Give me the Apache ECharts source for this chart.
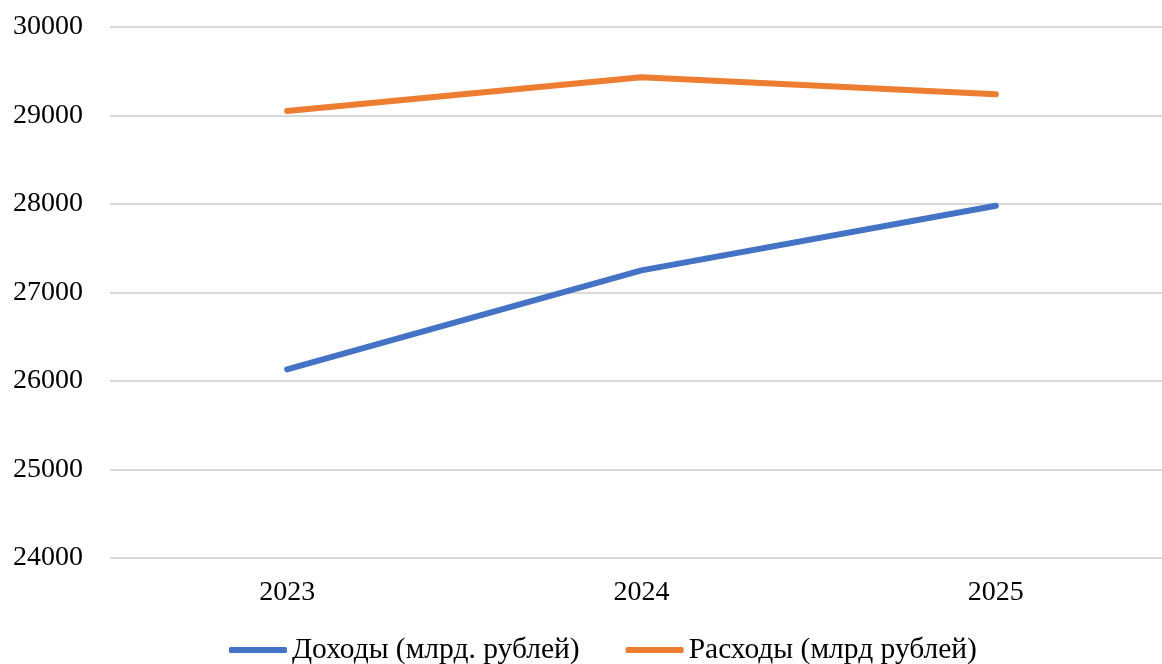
<!DOCTYPE html>
<html>
<head>
<meta charset="utf-8">
<title>Доходы и расходы</title>
<script src="https://cdn.jsdelivr.net/npm/echarts@6/dist/echarts.min.js"></script>
<style>
  html, body { margin: 0; padding: 0; background: #ffffff; overflow: hidden; }
  #chart { width: 1180px; height: 664px; }
</style>
</head>
<body>
<div id="chart"></div>
<script>
// Budget figures by year, billions of roubles
const years = ['2023', '2024', '2025'];
const incomeName = 'Доходы (млрд. рублей)';
const expenseName = 'Расходы (млрд рублей)';
const income = [26132, 27250, 27980];
const expense = [29052, 29432, 29240];

const yMin = 24000;
const yMax = 30000;
const yStep = 1000;

const serifFont = '"Liberation Serif", "Times New Roman", "DejaVu Serif", serif';

const chart = echarts.init(document.getElementById('chart'), null, { renderer: 'canvas' });

chart.setOption({
  backgroundColor: '#ffffff',
  animation: false,
  textStyle: { fontFamily: serifFont },
  grid: { left: 110, top: 27, width: 1063, height: 531 },
  legend: {
    data: [incomeName, expenseName],
    top: 630,
    left: 224,
    icon: 'roundRect',
    itemWidth: 58,
    itemHeight: 6,
    itemGap: 46,
    textStyle: { fontFamily: serifFont, fontSize: 29.5, color: '#000000' }
  },
  xAxis: {
    type: 'category',
    data: years,
    boundaryGap: true,
    axisLine: { show: false },
    axisTick: { show: false },
    axisLabel: { fontFamily: serifFont, fontSize: 28, color: '#000000', margin: 21 },
    splitLine: { show: false }
  },
  yAxis: {
    type: 'value',
    min: yMin,
    max: yMax,
    interval: yStep,
    axisLine: { show: false },
    axisTick: { show: false },
    axisLabel: {
      fontFamily: serifFont,
      fontSize: 28,
      color: '#000000',
      margin: 27,
      formatter: (v) => String(v)
    },
    splitLine: { lineStyle: { color: '#d9d9d9', width: 2 } }
  },
  series: [
    {
      name: incomeName,
      type: 'line',
      data: income,
      symbol: 'none',
      smooth: false,
      color: '#4472c4',
      lineStyle: { width: 6, color: '#4472c4', cap: 'round', join: 'round' }
    },
    {
      name: expenseName,
      type: 'line',
      data: expense,
      symbol: 'none',
      smooth: false,
      color: '#ed7d31',
      lineStyle: { width: 6, color: '#ed7d31', cap: 'round', join: 'round' }
    }
  ]
});
</script>
</body>
</html>
